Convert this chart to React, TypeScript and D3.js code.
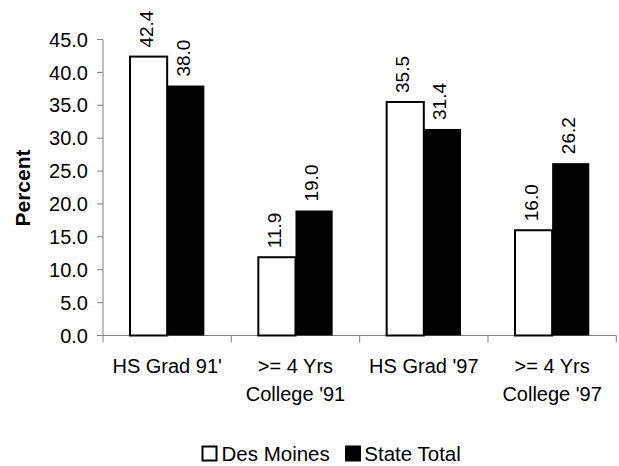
import React from 'react';
import * as d3 from 'd3';

const categories = [["HS Grad 91'"], ['>= 4 Yrs', "College '91"], ["HS Grad '97"], ['>= 4 Yrs', "College '97"]];
const series = ['Des Moines', 'State Total'];
const desMoines = [42.4, 11.9, 35.5, 16.0];
const stateTotal = [38.0, 19.0, 31.4, 26.2];
const yTicks = [0, 5, 10, 15, 20, 25, 30, 35, 40, 45];

const W = 619;
const H = 466;
const FONT = '"Liberation Sans", Arial, sans-serif';

const App = () => {
  const left = 103;
  const right = 616.3;
  const y0 = 335.5;
  const yTop = 39.5;

  const keys = categories.map((c, i) => String(i));
  const x0 = d3.scaleBand().domain(keys).range([left, right]).paddingInner(0).paddingOuter(0);
  const x1 = d3.scaleBand().domain(series).range([0, x0.bandwidth()]).paddingInner(0).paddingOuter(0.727);
  const y = d3.scaleLinear().domain([0, 45]).range([y0, yTop]);

  const values = [desMoines, stateTotal];

  return (
    <svg width={W} height={H} style={{ position: 'absolute', left: 0, top: 0, fontFamily: FONT }}>
      <rect width={W} height={H} fill="#fff" />

      {/* y axis */}
      <line x1={left} x2={left} y1={yTop} y2={y0} stroke="#808080" strokeWidth={1} />
      {yTicks.map(t => (
        <g key={t}>
          <line x1={left - 6} x2={left} y1={y(t)} y2={y(t)} stroke="#808080" strokeWidth={1} />
          <text x={88} y={y(t)} dy="0.36em" fontSize={20} textAnchor="end" fill="#000">
            {t.toFixed(1)}
          </text>
        </g>
      ))}

      {/* x axis */}
      <line x1={left} x2={right} y1={y0} y2={y0} stroke="#808080" strokeWidth={1} />
      {[...keys.map(k => x0(k)), right].map((t, i) => (
        <line key={i} x1={t} x2={t} y1={y0} y2={y0 + 7} stroke="#808080" strokeWidth={1} />
      ))}
      {categories.map((lines, i) => (
        <text key={i} textAnchor="middle" fontSize={20} fill="#000">
          {lines.map((l, li) => (
            <tspan key={li} x={x0(keys[i]) + x0.bandwidth() / 2} y={372.5 + li * 28.7}>
              {l}
            </tspan>
          ))}
        </text>
      ))}

      {/* bars */}
      {keys.map((k, i) =>
        series.map((s, j) => {
          const v = values[j][i];
          const bx = x0(k) + x1(s);
          const bw = x1.bandwidth();
          const cx = bx + bw / 2;
          return (
            <g key={k + s}>
              <rect
                x={bx}
                y={y(v)}
                width={bw}
                height={y0 - y(v)}
                fill={j === 0 ? '#fff' : '#000'}
                stroke="#000"
                strokeWidth={j === 0 ? 2 : 0}
              />
              <text
                transform={`translate(${cx + 4},${y(v) - 9}) rotate(-90)`}
                fontSize={19}
                textAnchor="start"
                fill="#000"
              >
                {v.toFixed(1)}
              </text>
            </g>
          );
        })
      )}

      {/* y title */}
      <text
        transform="translate(30,188) rotate(-90)"
        textAnchor="middle"
        fontSize={21}
        fontWeight="bold"
        fill="#000"
      >
        Percent
      </text>

      {/* legend */}
      <rect x={202.5} y={446.5} width={14} height={14} fill="#fff" stroke="#000" strokeWidth={2} />
      <text x={221.5} y={461} fontSize={20.5} fill="#000">{series[0]}</text>
      <rect x={345} y={445.5} width={16} height={16} fill="#000" />
      <text x={364.3} y={461} fontSize={20.5} fill="#000">{series[1]}</text>
    </svg>
  );
};

export default App;
